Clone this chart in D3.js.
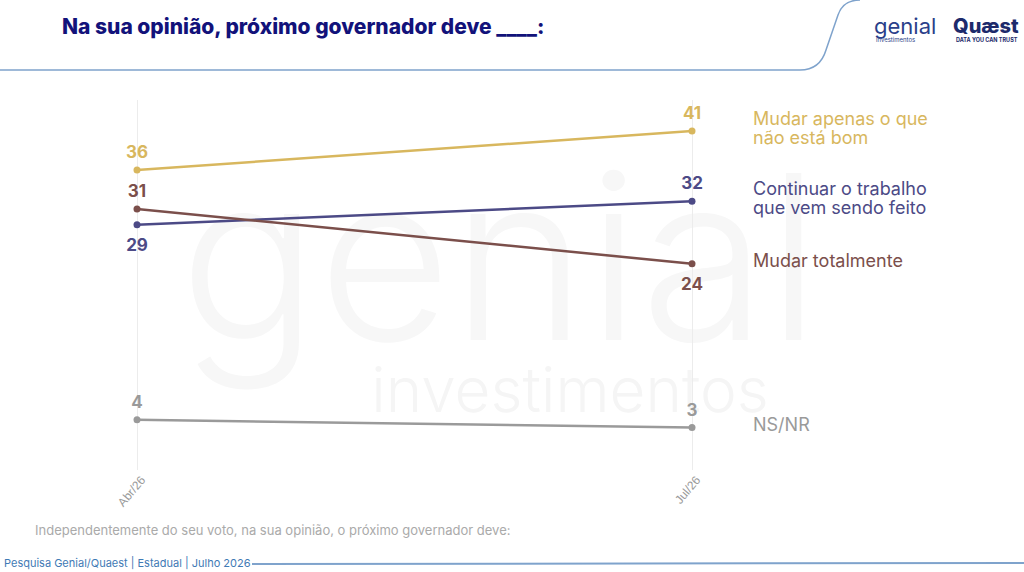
<!DOCTYPE html>
<html><head><meta charset="utf-8">
<script src="https://cdn.jsdelivr.net/npm/d3@7"></script>
<style>body{margin:0;background:#fff;font-family:Inter,"Open Sans",sans-serif}</style>
</head><body><svg id="c" width="1024" height="572"></svg>
<script>
const periods = ["Abr/26", "Jul/26"];
const seriesNames = ["Mudar apenas o que\nnão está bom", "Continuar o trabalho\nque vem sendo feito", "Mudar totalmente", "NS/NR"];
const seriesValues = [[36, 41], [29, 32], [31, 24], [4, 3]];
const seriesColors = ["#d8b75e", "#4c4a86", "#7b4f4b", "#9a9a9a"];
// label above (-1) or below (+1) the point
const labelSide = [[-1, -1], [1, -1], [-1, 1], [-1, -1]];

const svg = d3.select("#c");
const x = d3.scalePoint().domain(periods).range([137, 692]);
const y = d3.scaleLinear().domain([0, 41]).range([451, 131]);

// watermark
svg.append("text").attr("x", 500).attr("y", 340).attr("text-anchor", "middle")
  .attr("font-size", 230).attr("font-weight", 300).attr("fill", "#f7f7f7").text("genial");
svg.append("text").attr("x", 570).attr("y", 412).attr("text-anchor", "middle")
  .attr("font-size", 62).attr("font-weight", 300).attr("fill", "#f5f5f5").text("investimentos");

// header
svg.append("text").attr("x", 62).attr("y", 34).attr("font-size", 21).attr("font-weight", 800)
  .attr("fill", "#12127a").text("Na sua opinião, próximo governador deve ____:");
svg.append("path").attr("d", "M0,70 H800 Q820,70 826,50 L838,15 Q843,0 860,0")
  .attr("fill", "none").attr("stroke", "#7fa3cc").attr("stroke-width", 1.5);
svg.append("text").attr("x", 874).attr("y", 34).attr("font-size", 22).attr("fill", "#2a3f8a").text("genial");
svg.append("text").attr("x", 876).attr("y", 42).attr("font-size", 6).attr("fill", "#2a3f8a").text("investimentos");
svg.append("text").attr("x", 953).attr("y", 33).attr("font-size", 20).attr("font-weight", 800).attr("fill", "#1d2a6b").text("Quæst");
svg.append("text").attr("x", 956).attr("y", 42).attr("font-size", 5.5).attr("font-weight", 700).attr("fill", "#1d2a6b").text("DATA YOU CAN TRUST");

// x axis
const ax = svg.append("g").attr("transform", "translate(0,470)")
  .call(d3.axisBottom(x).tickSize(-370).tickPadding(6));
ax.select(".domain").remove();
ax.selectAll(".tick line").attr("stroke", "#ececec");
ax.selectAll(".tick text").attr("fill", "#999").attr("font-size", 12)
  .attr("text-anchor", "end").attr("transform", "rotate(-50)").attr("dx", "-0.2em").attr("dy", "0.6em");

const line = d3.line().x((d, i) => x(periods[i])).y(d => y(d));
seriesValues.forEach((vals, s) => {
  const c = seriesColors[s];
  svg.append("path").datum(vals).attr("d", line).attr("fill", "none").attr("stroke", c).attr("stroke-width", 2.5);
  svg.selectAll(null).data(vals).enter().append("circle")
    .attr("cx", (d, i) => x(periods[i])).attr("cy", d => y(d)).attr("r", 3.5).attr("fill", c);
  svg.selectAll(null).data(vals).enter().append("text")
    .attr("x", (d, i) => x(periods[i]))
    .attr("y", (d, i) => y(d) + (labelSide[s][i] < 0 ? -12 : 26))
    .attr("text-anchor", "middle").attr("font-size", 17).attr("font-weight", 700).attr("fill", c).text(d => d);
  const lines = seriesNames[s].split("\n");
  const ly = y(vals[1]) - (lines.length - 1) * 9.5 + 3;
  const t = svg.append("text").attr("x", 753).attr("y", ly).attr("font-size", 18).attr("fill", c);
  lines.forEach((l, k) => t.append("tspan").attr("x", 753).attr("dy", k ? 19 : 0).text(l));
});

// footer
svg.append("text").attr("x", 35).attr("y", 535).attr("font-size", 13).attr("fill", "#aaa")
  .text("Independentemente do seu voto, na sua opinião, o próximo governador deve:");
svg.append("text").attr("x", 4).attr("y", 567).attr("font-size", 11).attr("fill", "#3f7ab5")
  .text("Pesquisa Genial/Quaest | Estadual | Julho 2026");
svg.append("line").attr("x1", 252).attr("x2", 1024).attr("y1", 564).attr("y2", 563)
  .attr("stroke", "#7fa3cc").attr("stroke-width", 2);
</script></body></html>
